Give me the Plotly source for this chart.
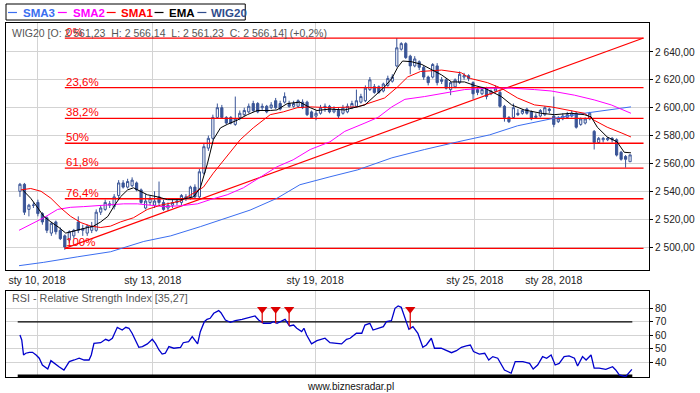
import plotly.graph_objects as go

# ---------------- data ----------------
opens = [2540, 2545, 2527, 2530, 2532, 2524, 2521, 2510, 2518, 2512,
         2508, 2505, 2508, 2518, 2512, 2510, 2512, 2512, 2525, 2527,
         2530, 2529, 2537, 2546, 2543, 2544, 2546, 2541, 2528, 2532,
         2530, 2536, 2532, 2528, 2530, 2532, 2532, 2536, 2536, 2543,
         2536, 2553, 2571, 2578, 2593, 2600, 2593, 2593, 2588, 2593,
         2595, 2597, 2603, 2603, 2600, 2601, 2600, 2605, 2603, 2604,
         2603, 2601, 2601, 2604, 2604, 2597, 2594, 2596, 2600, 2601,
         2597, 2598, 2596, 2597, 2600, 2601, 2604, 2605, 2613, 2615,
         2615, 2612, 2616, 2619, 2630, 2642, 2646, 2637, 2630, 2633,
         2629, 2622, 2622, 2630, 2620, 2620, 2613, 2615, 2618, 2622,
         2623, 2618, 2613, 2610, 2614, 2610, 2612, 2611, 2601, 2593,
         2593, 2596, 2596, 2599, 2597, 2593, 2594, 2595, 2599, 2594,
         2590, 2592, 2593, 2594, 2596, 2588, 2589, 2592, 2583, 2575,
         2577, 2577, 2578, 2577, 2568, 2565, 2561.23]
highs = [2546, 2546, 2531, 2532, 2534, 2525, 2522, 2518, 2519, 2514,
         2509, 2512, 2513, 2522, 2516, 2516, 2518, 2527, 2530, 2534,
         2533, 2538, 2548, 2548, 2549, 2550, 2547, 2542, 2538, 2537,
         2540, 2547, 2534, 2532, 2534, 2535, 2538, 2538, 2544, 2545,
         2556, 2574, 2580, 2595, 2603, 2602, 2594, 2594, 2608, 2598,
         2600, 2603, 2605, 2604, 2603, 2602, 2604, 2607, 2605, 2611,
         2605, 2605, 2606, 2606, 2605, 2598, 2598, 2602, 2603, 2602,
         2601, 2600, 2602, 2603, 2605, 2613, 2610, 2616, 2622, 2617,
         2616, 2618, 2623, 2624, 2650, 2647, 2647, 2638, 2637, 2634,
         2630, 2623, 2632, 2632, 2622, 2621, 2619, 2621, 2626, 2625,
         2624, 2619, 2615, 2615, 2615, 2613, 2616, 2613, 2602, 2594,
         2603, 2599, 2599, 2600, 2598, 2596, 2599, 2601, 2600, 2608,
         2594, 2596, 2597, 2598, 2597, 2593, 2593, 2597, 2584, 2579,
         2579, 2579, 2579, 2578, 2569, 2566, 2566.14]
lows = [2536, 2523, 2522, 2528, 2522, 2516, 2510, 2508, 2509, 2505,
        2498, 2503, 2506, 2510, 2508, 2508, 2510, 2511, 2523, 2526,
        2528, 2527, 2535, 2542, 2542, 2543, 2540, 2531, 2527, 2530,
        2528, 2530, 2526, 2526, 2528, 2530, 2530, 2533, 2534, 2535,
        2535, 2552, 2569, 2577, 2592, 2592, 2588, 2588, 2587, 2591,
        2594, 2596, 2597, 2596, 2598, 2596, 2599, 2599, 2598, 2603,
        2600, 2600, 2600, 2599, 2594, 2592, 2591, 2595, 2597, 2596,
        2596, 2592, 2595, 2596, 2599, 2600, 2603, 2604, 2612, 2610,
        2610, 2611, 2615, 2618, 2629, 2641, 2635, 2624, 2629, 2627,
        2620, 2616, 2621, 2616, 2617, 2613, 2609, 2614, 2617, 2620,
        2619, 2606, 2609, 2609, 2606, 2609, 2611, 2600, 2590, 2589,
        2592, 2594, 2595, 2595, 2591, 2592, 2593, 2594, 2596, 2586,
        2589, 2591, 2592, 2593, 2585, 2587, 2588, 2591, 2570, 2574,
        2575, 2576, 2575, 2565, 2562, 2557, 2561.23]
closes = [2545, 2525, 2530, 2530, 2524, 2518, 2512, 2517, 2511, 2506,
          2500, 2511, 2512, 2512, 2513, 2515, 2515, 2525, 2528, 2532,
          2531, 2536, 2546, 2543, 2547, 2548, 2541, 2532, 2533, 2535,
          2533, 2532, 2527, 2530, 2532, 2533, 2537, 2535, 2543, 2536,
          2554, 2572, 2578, 2593, 2600, 2593, 2589, 2589, 2592, 2596,
          2598, 2601, 2598, 2597, 2601, 2597, 2602, 2600, 2599, 2608,
          2601, 2603, 2605, 2600, 2595, 2593, 2596, 2600, 2601, 2597,
          2599, 2594, 2600, 2601, 2603, 2605, 2608, 2614, 2620, 2611,
          2611, 2617, 2621, 2622, 2643, 2646, 2636, 2630, 2635, 2629,
          2622, 2618, 2631, 2618, 2619, 2614, 2618, 2620, 2624, 2623,
          2621, 2610, 2611, 2613, 2608, 2612, 2614, 2601, 2593, 2590,
          2600, 2595, 2598, 2596, 2592, 2594, 2598, 2600, 2598, 2588,
          2592, 2594, 2595, 2596, 2586, 2592, 2592, 2596, 2575, 2578,
          2578, 2578, 2577, 2566, 2563, 2563, 2566.14]

# moving averages read at sample positions (candle index, value)
ema_x = [0.6, 2.4, 4.0, 5.3, 6.9, 8.7, 10.2, 11.3, 12.9, 15.1, 16.4, 18.0, 19.6, 20.9,
         22.4, 24.0, 25.3, 26.9, 28.4, 30.7, 32.9, 35.8, 38.7, 40.2, 41.8, 43.1, 44.7,
         46.2, 48.4, 50.7, 52.9, 55.8, 57.3, 59.6, 62.4, 64.7, 66.2, 69.1, 72.4, 76.9,
         81.3, 82.9, 84.2, 85.3, 87.3, 89.6, 91.8, 94.0, 96.2, 99.1, 101.3, 103.6,
         107.3, 109.6, 112.4, 116.2, 119.1, 122.9, 125.8, 127.3, 128.7, 130.9, 133.1,
         134.7, 136.2]
ema_y = [2541, 2535, 2528, 2522, 2518, 2514, 2510, 2511, 2512.4, 2514, 2515, 2518, 2522,
         2529, 2536, 2541, 2542.5, 2540, 2537.5, 2536, 2534, 2534, 2536, 2542.5, 2560,
         2577, 2585.5, 2588, 2591, 2595, 2598, 2598, 2598.4, 2603, 2604, 2600, 2598,
         2599, 2598.4, 2602, 2615, 2621, 2629, 2633.5, 2633, 2631, 2627, 2623.5, 2618.5,
         2618.5, 2616, 2614, 2608, 2602, 2598.4, 2596, 2595, 2596, 2595, 2593.5, 2586,
         2579, 2575.5, 2568, 2567.6]

sma1_x = [0.2, 2.4, 4.7, 6.9, 9.1, 11.3, 13.6, 15.8, 18.0, 20.2, 22.4, 25.3, 28.4, 31.3,
          35.8, 38.7, 40.9, 43.1, 46.2, 49.1, 52.0, 54.2, 55.8, 58.7, 61.8, 64.7, 69.1,
          75.3, 81.3, 84.2, 86.4, 89.3, 94.0, 98.4, 100.4, 104.2, 107.3, 110.9, 114.7,
          118.4, 122.0, 125.8, 128.0, 130.9, 134.0, 136.2]
sma1_y = [2541, 2542, 2540, 2535, 2528, 2522, 2517.5, 2515, 2514, 2515, 2518, 2521, 2527,
          2530, 2533, 2539, 2543, 2553, 2565, 2577, 2585.5, 2591, 2595, 2597, 2600,
          2600.6, 2600, 2600.6, 2607, 2615, 2622, 2626, 2627, 2625, 2621, 2618, 2614,
          2607, 2602, 2600.6, 2598.4, 2596, 2591, 2586, 2582, 2579]

sma2_x = [-0.2, 2.4, 5.3, 8.4, 11.3, 14.2, 17.3, 20.2, 23.1, 26.2, 29.1, 32.0, 35.8, 39.6,
          42.4, 46.2, 49.8, 53.6, 57.3, 60.9, 64.7, 69.1, 72.4, 76.9, 79.8, 82.9, 85.8,
          90.2, 94.7, 99.1, 104.2, 109.6, 114.7, 118.4, 123.6, 128.0, 131.8, 136.2]
sma2_y = [2512, 2516, 2521, 2527, 2528.5, 2529, 2529.6, 2530, 2531, 2531, 2530, 2529,
          2529.6, 2531, 2534, 2537.5, 2542.5, 2550, 2557.6, 2562.6, 2570, 2575.5, 2583,
          2589, 2593, 2600.6, 2606, 2608, 2610.6, 2613, 2614, 2614, 2613, 2612, 2609,
          2605.6, 2602, 2596]

sma3_x = [-0.2, 5.3, 12.9, 20.2, 27.6, 33.6, 40.2, 51.3, 57.3, 62.4, 69.1, 75.3, 82.9,
          90.2, 97.6, 104.7, 110.9, 118.4, 125.8, 136.2]
sma3_y = [2486.6, 2489, 2493, 2496.6, 2504, 2508, 2514.6, 2526.5, 2535, 2544.7, 2550.4,
          2555.4, 2564, 2570, 2575.5, 2580.5, 2587, 2592, 2596, 2600.6]

rsi_x = [0, 0.4, 0.8, 1.3, 2.1, 2.8, 3.6, 4.3, 5.0, 6.2, 6.9, 7.6, 8.7, 9.8, 11.0, 12.1,
         13.2, 14.3, 15.4, 15.9, 16.5, 18.0, 19.1, 19.8, 20.6, 21.7, 22.8, 23.6, 24.3,
         25.0, 25.8, 26.5, 27.3, 28.4, 29.5, 30.2, 31.0, 31.7, 32.4, 33.2, 34.3, 35.8,
         36.4, 37.6, 38.4, 39.1, 39.6, 40.2, 41.1, 41.7, 42.4, 43.2, 44.3, 44.8, 45.8,
         46.9, 48.0, 49.5, 51.0, 52.4, 53.2, 54.3, 55.8, 56.5, 57.3, 58.4, 59.1, 60.1,
         61.0, 61.7, 62.8, 63.3, 63.9, 65.0, 66.2, 68.0, 69.1, 70.6, 71.7, 72.8, 73.6,
         75.0, 76.2, 76.9, 78.0, 78.7, 80.2, 81.0, 81.7, 82.8, 83.6, 84.3, 85.0, 85.8,
         86.7, 87.6, 88.7, 89.8, 90.6, 91.7, 92.4, 93.9, 95.0, 96.2, 97.3, 98.4, 99.5,
         100.4, 101.1, 102.4, 103.6, 104.5, 105.4, 106.5, 108.0, 109.5, 110.4, 112.1,
         113.6, 114.4, 115.4, 116.5, 117.4, 118.4, 119.3, 120.2, 121.3, 122.4, 123.6,
         124.3, 125.4, 126.2, 127.3, 128.0, 129.1, 130.6, 132.1, 132.8, 133.6, 135.0,
         136.4]
rsi_y = [60.2, 56.5, 45.4, 46.7, 47.4, 47.4, 45.4, 43, 38, 35, 41.2, 39.2, 36.7, 34.3,
         40.5, 41.7, 43, 41.7, 41.7, 45.4, 54, 54.5, 57, 56, 57.8, 65.9, 63.9, 65.9, 65.2,
         61.5, 56.5, 51.1, 51.6, 53.6, 57, 54, 49.1, 46.1, 46.7, 51.6, 50.4, 51.1, 54.5,
         55.3, 59, 55.3, 53.6, 62.7, 70.1, 71.8, 72.6, 76.3, 78.3, 76.7, 71.3, 69.6, 70.8,
         71.8, 73.3, 74.3, 71.3, 68.9, 68.9, 70.1, 68.9, 70.8, 71.8, 66.9, 67.6, 65.2,
         62.7, 65.2, 60.2, 53.6, 56, 57.8, 54.5, 54, 53.6, 57, 57.8, 61.5, 61.5, 67.6,
         68.9, 63.9, 65.2, 66.4, 70.1, 70.8, 80, 81.7, 80.7, 72.6, 64.4, 66.4, 61.5, 51.1,
         52.8, 57.8, 50.4, 50.4, 49.1, 47.1, 48.6, 51.1, 52.1, 52.8, 47.9, 46.1, 46.7,
         41.7, 44.2, 43, 34.3, 31.9, 40.5, 40.5, 39.2, 35, 38, 44.2, 43, 45.4, 38, 39.2,
         44.2, 44.7, 43, 37.3, 44.2, 41.7, 45.4, 35.6, 35.6, 34.8, 36.7, 34.3, 30.6, 29.3,
         34.8]

signal_idx = [54, 57, 60, 87]
signal_rsi = [69, 69, 67, 64.5]

fib_high = 2650
fib_low = 2499
fib_ratios = [0.0, 0.236, 0.382, 0.5, 0.618, 0.764, 1.0]
fib_labels = ["0%", "23,6%", "38,2%", "50%", "61,8%", "76,4%", "100%"]
fib_span = [10, 139]
trend_x = [10, 139]
trend_y = [2499, 2650]

date_ticks = [3.8, 29.6, 65.8, 101.4, 119.0]
date_labels = ["sty 10, 2018", "sty 13, 2018", "sty 19, 2018", "sty 25, 2018", "sty 28, 2018"]
price_ticks = [2500, 2520, 2540, 2560, 2580, 2600, 2620, 2640]
rsi_ticks = [40, 50, 60, 70, 80]

header = "WIG20 [O: 2 561,23&nbsp; H: 2 566,14&nbsp; L: 2 561,23&nbsp; C: 2 566,14] (+0,2%)"

# ---------------- styling ----------------
CANDLE = "#3a5597"
C_SMA3 = "#3b6ef0"
C_SMA2 = "#ff00ff"
C_SMA1 = "#ff0000"
C_EMA = "#000000"
GRID = "#d3d3d3"
FONT = "Liberation Sans, Arial, sans-serif"

W, H = 700, 393
ML, MR, MT, MB = 5, 50, 23, 16
PW, PH = W - ML - MR, H - MT - MB


def px_x(px):
    return (px - ML) / PW


def px_y(py):
    return (H - MB - py) / PH


fig = go.Figure()

# fib lines
for r in fib_ratios:
    lvl = fib_high - (fib_high - fib_low) * r
    fig.add_trace(go.Scatter(x=fib_span, y=[lvl, lvl], mode="lines",
                             line=dict(color="#ff0000", width=1.3),
                             showlegend=False, hoverinfo="skip"))
# trend line
fig.add_trace(go.Scatter(x=trend_x, y=trend_y, mode="lines",
                         line=dict(color="#ff0000", width=1.2),
                         showlegend=False, hoverinfo="skip"))

idx = list(range(len(closes)))
fig.add_trace(go.Candlestick(
    x=idx, open=opens, high=highs, low=lows, close=closes,
    increasing=dict(line=dict(color=CANDLE, width=1), fillcolor="white"),
    decreasing=dict(line=dict(color=CANDLE, width=1), fillcolor=CANDLE),
    whiskerwidth=0, showlegend=False, hoverinfo="skip"))

for xs, ys, c in [(sma3_x, sma3_y, C_SMA3), (sma2_x, sma2_y, C_SMA2),
                  (sma1_x, sma1_y, C_SMA1), (ema_x, ema_y, C_EMA)]:
    fig.add_trace(go.Scatter(x=xs, y=ys, mode="lines", line=dict(color=c, width=1),
                             showlegend=False, hoverinfo="skip"))

# RSI panel
fig.add_trace(go.Scatter(x=[-0.5, 136.5], y=[70, 70], mode="lines",
                         line=dict(color="black", width=1.2), xaxis="x2", yaxis="y2",
                         showlegend=False, hoverinfo="skip"))
fig.add_trace(go.Scatter(x=[-0.5, 136.5], y=[30, 30], mode="lines",
                         line=dict(color="black", width=2.5), xaxis="x2", yaxis="y2",
                         showlegend=False, hoverinfo="skip"))
fig.add_trace(go.Scatter(x=rsi_x, y=rsi_y, mode="lines", line=dict(color="#0000cc", width=1.3),
                         xaxis="x2", yaxis="y2", showlegend=False, hoverinfo="skip"))
for sx, sv in zip(signal_idx, signal_rsi):
    fig.add_trace(go.Scatter(x=[sx, sx], y=[79.5, sv], mode="lines",
                             line=dict(color="#dd0000", width=1.2), xaxis="x2", yaxis="y2",
                             showlegend=False, hoverinfo="skip"))
fig.add_trace(go.Scatter(x=signal_idx, y=[79.3] * len(signal_idx), mode="markers",
                         marker=dict(symbol="triangle-down", size=9, color="#dd0000"),
                         xaxis="x2", yaxis="y2", showlegend=False, hoverinfo="skip"))

xr = [-3.11, 140.22]
main_bottom = (H - MB - 270) / PH
rsi_top = (H - MB - 291) / PH

axis_common = dict(showline=True, linecolor="black", linewidth=1, mirror=True,
                   gridcolor=GRID, gridwidth=1, zeroline=False)

fig.update_layout(
    width=W, height=H,
    margin=dict(l=ML, r=MR, t=MT, b=MB),
    paper_bgcolor="white", plot_bgcolor="white",
    separators=", ",
    font=dict(family=FONT, size=10, color="#222"),
    xaxis=dict(domain=[0, 1], range=xr, anchor="y", tickvals=date_ticks, ticktext=date_labels,
               showgrid=True, ticks="", ticklen=0, rangeslider=dict(visible=False),
               tickfont=dict(size=10.5, color="#222"), **axis_common),
    yaxis=dict(domain=[main_bottom, 1], range=[2483.5, 2660.8], side="right", anchor="x",
               tickvals=price_ticks, tickformat=",.2f", ticks="outside", ticklen=3,
               tickcolor="black", tickfont=dict(size=10.2, color="#222"), **axis_common),
    xaxis2=dict(domain=[0, 1], range=xr, anchor="y2", tickvals=date_ticks,
                showticklabels=False, showgrid=True, ticks="", **axis_common),
    yaxis2=dict(domain=[0, rsi_top], range=[29.1, 92.8], side="right", anchor="x2",
                tickvals=rsi_ticks, ticks="outside", ticklen=3, tickcolor="black",
                tickfont=dict(size=10.2, color="#222"), **axis_common),
)

ann = []
# fib labels
for r, lab in zip(fib_ratios, fib_labels):
    lvl = fib_high - (fib_high - fib_low) * r
    ann.append(dict(x=fib_span[0], y=lvl, xref="x", yref="y", text=lab, showarrow=False,
                    xanchor="left", yanchor="bottom", xshift=-1, yshift=-2,
                    font=dict(color="#ff0000", size=11.5, family=FONT)))
# header
ann.append(dict(x=px_x(9), y=px_y(33), xref="paper", yref="paper", text=header,
                showarrow=False, xanchor="left", yanchor="middle",
                font=dict(color="#555", size=10.5, family=FONT)))
ann.append(dict(x=px_x(9), y=px_y(298), xref="paper", yref="paper",
                text="RSI - Relative Strength Index [35,27]", showarrow=False,
                xanchor="left", yanchor="middle", font=dict(color="#555", size=10.8, family=FONT)))
ann.append(dict(x=px_x(351), y=px_y(386), xref="paper", yref="paper", text="www.biznesradar.pl",
                showarrow=False, xanchor="center", yanchor="middle",
                font=dict(color="#111", size=10, family=FONT)))

# custom legend
legend_items = [("SMA3", C_SMA3, 7, 20), ("SMA2", C_SMA2, 57, 70), ("SMA1", C_SMA1, 106, 118),
                ("EMA", C_EMA, 154, 167), ("WIG20", "#2f4c8c", 197, 209)]
shapes = [dict(type="rect", xref="paper", yref="paper", x0=px_x(5), x1=px_x(245),
               y0=px_y(20), y1=px_y(4), line=dict(color="black", width=1))]
for name, col, dx, tx in legend_items:
    shapes.append(dict(type="line", xref="paper", yref="paper", x0=px_x(dx), x1=px_x(dx + 9),
                       y0=px_y(12.5), y1=px_y(12.5), line=dict(color=col, width=1.2)))
    ann.append(dict(x=px_x(tx), y=px_y(12.5), xref="paper", yref="paper", text="<b>%s</b>" % name,
                    showarrow=False, xanchor="left", yanchor="middle",
                    font=dict(color=col, size=11.5, family=FONT)))

fig.update_layout(annotations=ann, shapes=shapes)

fig.write_html("out.html", config={"displayModeBar": False},
               post_script="document.body.style.margin='0';")
